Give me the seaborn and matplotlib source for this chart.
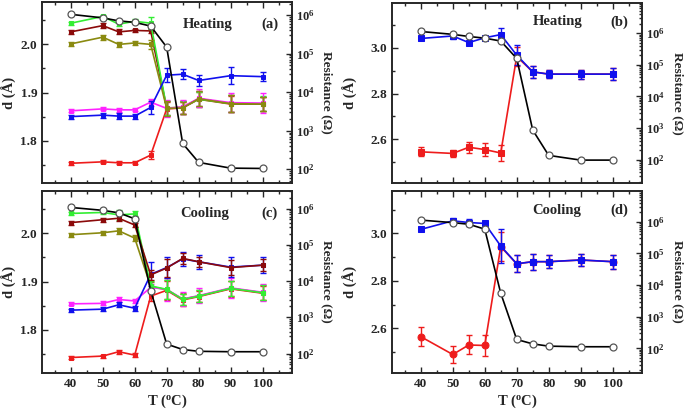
import numpy as np
import seaborn as sns
import matplotlib
matplotlib.use("Agg")
import matplotlib.pyplot as plt
from matplotlib.ticker import MultipleLocator, FormatStrFormatter, FuncFormatter, LogLocator, NullFormatter

# Data
temps = [40, 50, 55, 60, 65, 70, 75, 80, 90, 100]

# (a) heating, d values
green_a = [2.044, 2.058, 2.042, 2.048, 2.044, 1.868, 1.869, 1.886, 1.877, 1.877]
darkred_a = [2.026, 2.039, 2.026, 2.029, 2.028, 1.868, 1.869, 1.887, 1.877, 1.876]
olive_a = [2.001, 2.015, 2.000, 2.003, 2.000, 1.867, 1.868, 1.887, 1.877, 1.876]
magenta_a = [1.862, 1.866, 1.864, 1.864, 1.880, 1.867, 1.870, 1.888, 1.879, 1.878]
blue_a = [1.850, 1.853, 1.851, 1.851, 1.869, 1.936, 1.938, 1.925, 1.935, 1.933]
red_a = [1.753, 1.756, 1.754, 1.754, 1.770, 1.866, 1.868, 1.886, 1.876, 1.876]
green_a_err = [0.003, 0.004, 0.004, 0.004, 0.012, 0.015, 0.013, 0.016, 0.017, 0.015]
darkred_a_err = [0.004, 0.005, 0.005, 0.004, 0.005, 0.015, 0.013, 0.016, 0.017, 0.015]
olive_a_err = [0.004, 0.005, 0.005, 0.004, 0.010, 0.015, 0.013, 0.016, 0.017, 0.015]
magenta_a_err = [0.003, 0.003, 0.004, 0.003, 0.007, 0.018, 0.015, 0.019, 0.020, 0.020]
blue_a_err = [0.004, 0.005, 0.006, 0.005, 0.013, 0.014, 0.010, 0.011, 0.017, 0.010]
red_a_err = [0.003, 0.003, 0.003, 0.003, 0.008, 0.015, 0.013, 0.016, 0.017, 0.015]
res_a = [1.05e6, 8.5e5, 7.1e5, 6.5e5, 5.2e5, 1.48e5, 468, 151, 107, 105]

# (c) cooling, d values
green_c = [2.041, 2.043, 2.038, 2.040, 1.891, 1.884, 1.863, 1.870, 1.886, 1.877]
darkred_c = [2.022, 2.028, 2.031, 2.017, 1.914, 1.928, 1.948, 1.941, 1.929, 1.934]
olive_c = [1.997, 2.001, 2.005, 1.990, 1.890, 1.883, 1.864, 1.870, 1.886, 1.877]
magenta_c = [1.854, 1.855, 1.863, 1.860, 1.888, 1.884, 1.864, 1.871, 1.887, 1.878]
blue_c = [1.841, 1.843, 1.852, 1.845, 1.915, 1.929, 1.947, 1.941, 1.930, 1.934]
red_c = [1.743, 1.746, 1.755, 1.748, 1.870, 1.882, 1.862, 1.869, 1.885, 1.876]
green_c_err = [0.003, 0.003, 0.010, 0.005, 0.010, 0.020, 0.012, 0.012, 0.016, 0.015]
darkred_c_err = [0.004, 0.004, 0.006, 0.005, 0.010, 0.018, 0.012, 0.010, 0.015, 0.012]
olive_c_err = [0.004, 0.004, 0.006, 0.006, 0.010, 0.020, 0.012, 0.012, 0.016, 0.015]
magenta_c_err = [0.003, 0.004, 0.005, 0.005, 0.008, 0.024, 0.015, 0.016, 0.020, 0.018]
blue_c_err = [0.003, 0.004, 0.005, 0.005, 0.025, 0.022, 0.014, 0.014, 0.020, 0.017]
red_c_err = [0.003, 0.003, 0.004, 0.004, 0.010, 0.020, 0.012, 0.012, 0.016, 0.015]
res_c = [1.07e6, 8.9e5, 7.6e5, 5.2e5, 5.4e3, 182, 129, 115, 112, 112]

# (b) heating
blue_b = [3.041, 3.052, 3.023, 3.044, 3.058, 2.968, 2.895, 2.885, 2.885, 2.885]
red_b = [2.545, 2.538, 2.565, 2.555, 2.540, 2.962, 2.895, 2.885, 2.885, 2.885]
blue_b_err = [0.008, 0.015, 0.008, 0.008, 0.030, 0.045, 0.025, 0.018, 0.020, 0.025]
red_b_err = [0.020, 0.017, 0.025, 0.027, 0.035, 0.040, 0.025, 0.018, 0.020, 0.025]
res_b = [1.12e6, 9.1e5, 7.8e5, 6.9e5, 5.6e5, 1.58e5, 870, 138, 98, 98]

# (d) cooling
blue_d = [3.017, 3.053, 3.046, 3.042, 2.947, 2.872, 2.881, 2.881, 2.888, 2.881]
red_d = [2.565, 2.490, 2.530, 2.528, 2.944, 2.872, 2.881, 2.881, 2.888, 2.881]
blue_d_err = [0.005, 0.010, 0.015, 0.008, 0.070, 0.035, 0.033, 0.028, 0.025, 0.030]
red_d_err = [0.040, 0.037, 0.040, 0.045, 0.060, 0.035, 0.033, 0.028, 0.025, 0.030]
res_d = [1.12e6, 9.3e5, 8.3e5, 5.8e5, 5.5e3, 190, 138, 117, 112, 112]

GREEN = "#33ee33"
DARKRED = "#8b0a0a"
OLIVE = "#8a8a10"
MAGENTA = "#ff22ff"
BLUE = "#1010ee"
RED = "#ee1c1c"

sns.set_style("ticks")
plt.rcParams["font.family"] = ["Liberation Serif", "DejaVu Serif"]
plt.rcParams["font.weight"] = "bold"
plt.rcParams["axes.labelweight"] = "bold"
plt.rcParams["mathtext.fontset"] = "custom"
plt.rcParams["mathtext.rm"] = "Liberation Serif:bold"
plt.rcParams["mathtext.bf"] = "Liberation Serif:bold"
plt.rcParams["mathtext.it"] = "Liberation Serif:italic:bold"
plt.rcParams["axes.linewidth"] = 1.2

fig = plt.figure(figsize=(6.85, 4.15), dpi=100)

ax_a = fig.add_axes([0.0613, 0.5590, 0.3650, 0.4361])
ax_c = fig.add_axes([0.0613, 0.1012, 0.3650, 0.4393])
ax_b = fig.add_axes([0.5723, 0.5598, 0.3650, 0.4323])
ax_d = fig.add_axes([0.5723, 0.1012, 0.3650, 0.4393])


def draw(ax, y, err, color, marker="s", ms=3.2):
    ax.errorbar(temps, y, yerr=err, fmt="none", ecolor=color,
                elinewidth=1.0, capsize=2, capthick=1.0)
    sns.lineplot(x=temps, y=y, ax=ax, color=color, marker=marker,
                 markersize=ms, markeredgecolor=color, markerfacecolor=color,
                 linewidth=1.2, legend=False)


def decade_fmt(v, pos):
    return r"$\mathbf{10^{%d}}$" % int(round(np.log10(v)))


def style(ax, ylim, major, minor, rlim, res, bottom_labels, tag, mode, tx, ty, lx, ly):
    ax.set_xlim(31, 109.2)
    ax.set_ylim(*ylim)
    ax.xaxis.set_major_locator(MultipleLocator(10))
    ax.xaxis.set_minor_locator(MultipleLocator(5))
    ax.yaxis.set_major_locator(MultipleLocator(major))
    ax.yaxis.set_minor_locator(MultipleLocator(minor))
    ax.yaxis.set_major_formatter(FormatStrFormatter("%.1f"))
    ax.tick_params(which="both", direction="in", top=True, right=False,
                   labelsize=9.5, width=1.0)
    ax.tick_params(which="major", length=4)
    ax.tick_params(which="minor", length=2)
    ax.tick_params(axis="x", labelbottom=bottom_labels)
    ax.set_ylabel("d (Å)", fontsize=10.5, fontweight="bold")
    ax.yaxis.set_label_coords(lx, 0.5)
    if bottom_labels:
        ax.set_xlabel(r"T ($\mathbf{^{o}}$C)", fontsize=10.5, fontweight="bold", labelpad=2)
    else:
        ax.set_xlabel("")

    tw = ax.twinx()
    sns.lineplot(x=temps, y=res, ax=tw, color="black", marker="o",
                 markersize=5, markerfacecolor="white", markeredgecolor="#555555",
                 markeredgewidth=0.9, linewidth=1.2, legend=False)
    tw.set_yscale("log")
    tw.set_ylim(*rlim)
    tw.set_yticks([1e2, 1e3, 1e4, 1e5, 1e6])
    tw.yaxis.set_major_formatter(FuncFormatter(decade_fmt))
    tw.yaxis.set_minor_locator(LogLocator(base=10, subs=np.arange(2, 10)))
    tw.yaxis.set_minor_formatter(NullFormatter())
    tw.tick_params(which="both", direction="in", labelsize=9, width=1.0)
    tw.tick_params(which="major", length=4, pad=3)
    tw.tick_params(which="minor", length=2)
    tw.set_ylabel("Resistance (Ω)", fontsize=9.5, fontweight="bold", rotation=270)
    tw.yaxis.set_label_coords(ly, 0.5)

    ax.text(tx, ty, mode, transform=ax.transAxes, fontsize=10.5,
            fontweight="bold", ha="center", va="center")
    ax.text(0.91, ty, tag, transform=ax.transAxes, fontsize=10.5,
            fontweight="bold", ha="center", va="center")


# (a) heating
draw(ax_a, red_a, red_a_err, RED)
draw(ax_a, darkred_a, darkred_a_err, DARKRED)
draw(ax_a, green_a, green_a_err, GREEN)
draw(ax_a, magenta_a, magenta_a_err, MAGENTA)
draw(ax_a, olive_a, olive_a_err, OLIVE)
draw(ax_a, blue_a, blue_a_err, BLUE)
style(ax_a, (1.712, 2.088), 0.1, 0.05, (44, 2.19e6), res_a, False, "(a)", "Heating",
      0.664, 0.878, -0.10, 1.162)

# (c) cooling
draw(ax_c, red_c, red_c_err, RED)
draw(ax_c, olive_c, olive_c_err, OLIVE)
draw(ax_c, magenta_c, magenta_c_err, MAGENTA)
draw(ax_c, blue_c, blue_c_err, BLUE)
draw(ax_c, green_c, green_c_err, GREEN)
draw(ax_c, darkred_c, darkred_c_err, DARKRED)
style(ax_c, (1.711, 2.088), 0.1, 0.05, (29, 3.1e6), res_c, True, "(c)", "Cooling",
      0.652, 0.875, -0.10, 1.162)

# (b) heating
draw(ax_b, red_b, red_b_err, RED, "s", 4.5)
draw(ax_b, blue_b, blue_b_err, BLUE, "s", 4.5)
style(ax_b, (2.41, 3.195), 0.2, 0.1, (19, 8.7e6), res_b, False, "(b)", "Heating",
      0.664, 0.896, -0.136, 1.166)

# (d) cooling
draw(ax_d, red_d, red_d_err, RED, "o", 5)
draw(ax_d, blue_d, blue_d_err, BLUE, "s", 4.5)
style(ax_d, (2.412, 3.18), 0.2, 0.1, (16.6, 9.5e6), res_d, True, "(d)", "Cooling",
      0.66, 0.89, -0.136, 1.166)

fig.savefig("out.png", dpi=100)
plt.close(fig)
